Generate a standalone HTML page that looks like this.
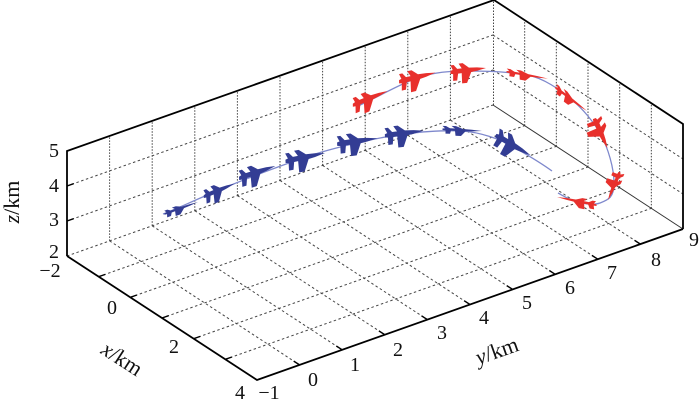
<!DOCTYPE html>
<html>
<head>
<meta charset="utf-8">
<style>
html,body{margin:0;padding:0;background:#fff;}
#wrap{position:relative;width:700px;height:400px;overflow:hidden;background:#fff;}
svg{display:block;position:absolute;left:0;top:0;}
.l{position:absolute;font-family:"Liberation Serif","DejaVu Serif","Noto Serif CJK SC",serif;font-size:20px;line-height:20px;color:#111;white-space:nowrap;transform:translate(-50%,-50%);}
.r{transform:translate(-100%,-50%);}
.a{font-size:22px;line-height:22px;}
.i{font-style:italic;}
</style>
</head>
<body>
<div id="wrap">
<svg width="700" height="400" viewBox="0 0 700 400" xmlns="http://www.w3.org/2000/svg">
<defs>
  <path id="jet" d="M20 0 L10 -1.8 L1 -2.6 L-6 -8.5 L-10.5 -8.5 L-7 -2.6 L-12 -2.6 L-16 -7.5 L-19.5 -7.5 L-17 -2 L-19.5 -1.2 L-19.5 2.2 L-16.5 2.8 L-16.5 10.5 L-12 10.5 L-11 2.8 L-7 2.8 L-6.5 14.5 L-1 14.5 L3.5 2.8 L10 2 Z"/>
</defs>
<rect width="700" height="400" fill="#fff"/>

<g stroke="#444" stroke-width="1" stroke-dasharray="2.5,2.5" fill="none">
  <line x1="67" y1="256" x2="493" y2="105"/>
  <line x1="98.67" y1="276.67" x2="524.67" y2="125.67"/>
  <line x1="130.33" y1="297.33" x2="556.33" y2="146.33"/>
  <line x1="162" y1="318" x2="588" y2="167"/>
  <line x1="193.67" y1="338.67" x2="619.67" y2="187.67"/>
  <line x1="225.33" y1="359.33" x2="651.33" y2="208.33"/>
  <line x1="109.6" y1="240.9" x2="299.6" y2="364.9"/>
  <line x1="152.2" y1="225.8" x2="342.2" y2="349.8"/>
  <line x1="194.8" y1="210.7" x2="384.8" y2="334.7"/>
  <line x1="237.4" y1="195.6" x2="427.4" y2="319.6"/>
  <line x1="280" y1="180.5" x2="470" y2="304.5"/>
  <line x1="322.6" y1="165.4" x2="512.6" y2="289.4"/>
  <line x1="365.2" y1="150.3" x2="555.2" y2="274.3"/>
  <line x1="407.8" y1="135.2" x2="597.8" y2="259.2"/>
  <line x1="450.4" y1="120.1" x2="640.4" y2="244.1"/>
  <line x1="67" y1="221" x2="493" y2="70"/>
  <line x1="67" y1="186" x2="493" y2="35"/>
  <line x1="493" y1="70" x2="683" y2="194"/>
  <line x1="493" y1="35" x2="683" y2="159"/>
</g>

<g stroke="#444" stroke-width="1" stroke-dasharray="1.5,1.5" fill="none">
  <line x1="109.6" y1="240.9" x2="109.6" y2="135.9"/>
  <line x1="152.2" y1="225.8" x2="152.2" y2="120.8"/>
  <line x1="194.8" y1="210.7" x2="194.8" y2="105.7"/>
  <line x1="237.4" y1="195.6" x2="237.4" y2="90.6"/>
  <line x1="280" y1="180.5" x2="280" y2="75.5"/>
  <line x1="322.6" y1="165.4" x2="322.6" y2="60.4"/>
  <line x1="365.2" y1="150.3" x2="365.2" y2="45.3"/>
  <line x1="407.8" y1="135.2" x2="407.8" y2="30.2"/>
  <line x1="450.4" y1="120.1" x2="450.4" y2="15.1"/>
  <line x1="493.5" y1="105" x2="493.5" y2="0"/>
  <line x1="524.67" y1="125.67" x2="524.67" y2="20.67"/>
  <line x1="556.33" y1="146.33" x2="556.33" y2="41.33"/>
  <line x1="588" y1="167" x2="588" y2="62"/>
  <line x1="619.67" y1="187.67" x2="619.67" y2="82.67"/>
  <line x1="651.33" y1="208.33" x2="651.33" y2="103.33"/>
</g>

<line x1="493" y1="105" x2="683" y2="229" stroke="#333" stroke-width="1"/>

<g stroke="#000" stroke-width="1.8" fill="none">
  <polyline points="67,256 67,151 494,0 683,124 683,229"/>
  <polyline points="67,256 257,380 683,229"/>
</g>

<g stroke="#000" stroke-width="1.4">
  <line x1="67" y1="221" x2="73.6" y2="218.7"/>
  <line x1="67" y1="186" x2="73.6" y2="183.7"/>
  <line x1="98.67" y1="276.67" x2="105.3" y2="274.4"/>
  <line x1="130.33" y1="297.33" x2="136.9" y2="295"/>
  <line x1="162" y1="318" x2="168.6" y2="315.7"/>
  <line x1="193.67" y1="338.67" x2="200.3" y2="336.4"/>
  <line x1="225.33" y1="359.33" x2="231.9" y2="357"/>
  <line x1="299.6" y1="364.9" x2="293.7" y2="361.1"/>
  <line x1="342.2" y1="349.8" x2="336.3" y2="346"/>
  <line x1="384.8" y1="334.7" x2="378.9" y2="330.9"/>
  <line x1="427.4" y1="319.6" x2="421.5" y2="315.8"/>
  <line x1="470" y1="304.5" x2="464.1" y2="300.7"/>
  <line x1="512.6" y1="289.4" x2="506.7" y2="285.6"/>
  <line x1="555.2" y1="274.3" x2="549.3" y2="270.5"/>
  <line x1="597.8" y1="259.2" x2="591.9" y2="255.4"/>
  <line x1="640.4" y1="244.1" x2="634.5" y2="240.3"/>
</g>

<g fill="none" stroke="#7e88cc" stroke-width="1.3">
  <path d="M163,214 C172,211 195,200 219,190 S280,166 306,157 S380,137 404,134 S445,130 462,131 S500,139 512,146 S540,162 552,171"/>
  <path d="M358,106 C380,96 400,84 417,78 S450,71 468,71 S510,72 527,75 S560,90 571,99 S594,122 601,135 S614,168 614,183 S608,200 600,203 S580,203 572,200 S562,195 558,193"/>
</g>

<g fill="#333d94">
  <use href="#jet" transform="matrix(0.85,-0.3,0.02,0.42,181,208)"/>
  <use href="#jet" transform="matrix(0.78,-0.32,0.05,0.8,219,190)"/>
  <use href="#jet" transform="matrix(0.92,-0.3,0.05,0.95,257,172)"/>
  <use href="#jet" transform="matrix(1.0,-0.2,0.05,0.98,305,157)"/>
  <use href="#jet" transform="matrix(1.02,-0.14,0.05,0.98,357,141)"/>
  <use href="#jet" transform="matrix(0.98,-0.12,0.05,0.95,404,133)"/>
  <use href="#jet" transform="matrix(1.0,0.05,0.0,0.42,462,130)"/>
  <use href="#jet" transform="matrix(0.88,0.52,-0.5,0.85,513,145)"/>
</g>
<g fill="#e8302c">
  <use href="#jet" transform="matrix(0.88,-0.35,0.02,0.9,370,98)"/>
  <use href="#jet" transform="matrix(0.92,-0.22,0.0,0.95,417,77)"/>
  <use href="#jet" transform="matrix(0.9,-0.1,0.0,0.88,468,70)"/>
  <use href="#jet" transform="matrix(1.05,0.18,-0.03,0.4,527,75)"/>
  <use href="#jet" transform="matrix(0.8,0.6,-0.14,0.45,571,99)"/>
  <use href="#jet" transform="matrix(0.32,0.75,-0.85,0.32,601,133)"/>
  <use href="#jet" transform="matrix(-0.3,0.7,-0.6,-0.22,614,186)"/>
  <use href="#jet" transform="matrix(-1.0,-0.2,0.06,0.48,577,201)"/>
</g>
</svg>

<!-- z tick labels -->
<div class="l r" style="left:59px;top:151px">5</div>
<div class="l r" style="left:59px;top:186px">4</div>
<div class="l r" style="left:59px;top:220px">3</div>
<div class="l r" style="left:59px;top:252px">2</div>
<!-- x tick labels -->
<div class="l" style="left:50px;top:271px">−2</div>
<div class="l" style="left:112px;top:308px">0</div>
<div class="l" style="left:174px;top:347px">2</div>
<div class="l" style="left:240px;top:393px">4</div>
<!-- y tick labels -->
<div class="l" style="left:269px;top:393px">−1</div>
<div class="l" style="left:313px;top:380px">0</div>
<div class="l" style="left:355px;top:365px">1</div>
<div class="l" style="left:398px;top:350px">2</div>
<div class="l" style="left:442px;top:333px">3</div>
<div class="l" style="left:484px;top:318px">4</div>
<div class="l" style="left:527px;top:303px">5</div>
<div class="l" style="left:570px;top:288px">6</div>
<div class="l" style="left:612px;top:273px">7</div>
<div class="l" style="left:656px;top:260px">8</div>
<div class="l" style="left:694px;top:240px">9</div>
<!-- axis labels -->
<div class="l a" style="left:122px;top:359px;transform:translate(-50%,-50%) rotate(33deg)"><span class="i">x</span>/km</div>
<div class="l a" style="left:497px;top:351px;transform:translate(-50%,-50%) rotate(-19.5deg)"><span class="i">y</span>/km</div>
<div class="l a" style="left:12px;top:202px;transform:translate(-50%,-50%) rotate(-90deg)"><span class="i">z</span>/km</div>
</div>
</body>
</html>
